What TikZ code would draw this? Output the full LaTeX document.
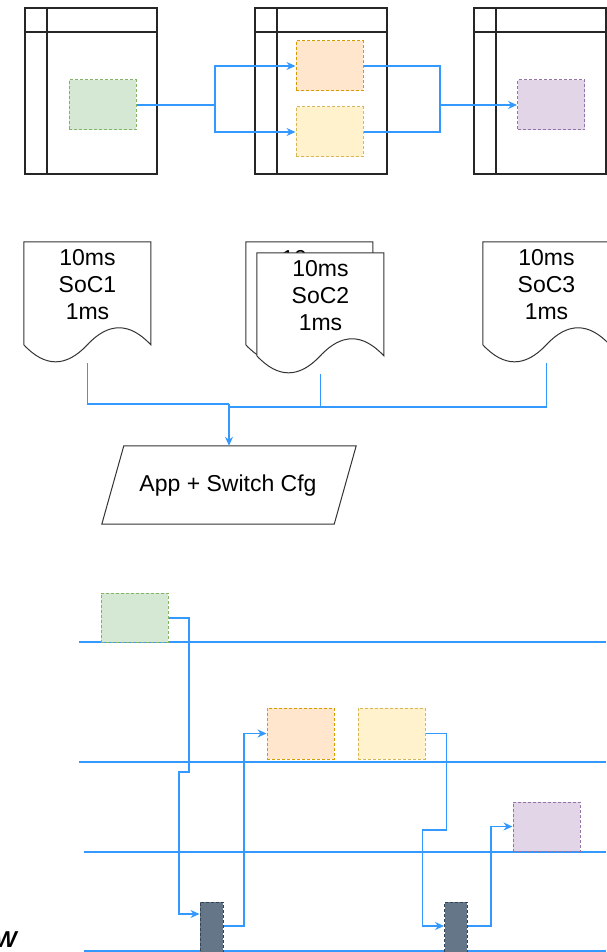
\documentclass[tikz,border=0pt]{standalone}
\usepackage{fontspec}
\setmainfont{Liberation Sans}
\usetikzlibrary{arrows.meta,calc}
\definecolor{flowc}{HTML}{3399FF}
\definecolor{gfill}{HTML}{D5E8D4}\definecolor{gline}{HTML}{82B366}
\definecolor{ofill}{HTML}{FFE6CC}\definecolor{oline}{HTML}{D79B00}
\definecolor{yfill}{HTML}{FFF2CC}\definecolor{yline}{HTML}{D6B656}
\definecolor{pfill}{HTML}{E1D5E7}\definecolor{pline}{HTML}{9673A6}
\definecolor{kfill}{HTML}{647687}\definecolor{kline}{HTML}{314354}
\tikzset{
  flow/.style={draw=flowc, line width=1.2pt},
  flowa/.style={flow, -{Stealth[length=9pt,width=8pt]}},
  cbox/.style={rectangle, dashed, dash pattern=on 3pt off 2pt, line width=1pt, minimum width=67pt, minimum height=50pt, inner sep=0pt},
  gbox/.style={cbox, fill=gfill, draw=gline},
  obox/.style={cbox, fill=ofill, draw=oline},
  ybox/.style={cbox, fill=yfill, draw=yline},
  pbox/.style={cbox, fill=pfill, draw=pline},
  kbox/.style={cbox, fill=kfill, draw=kline, minimum width=23pt, minimum height=73pt},
  winline/.style={draw=black!85, line width=1.3pt},
  docline/.style={draw=black!80, line width=1pt},
  docbb/.style={rectangle, minimum width=127pt, minimum height=121pt, inner sep=0pt},
  doctext/.style={align=center, font=\fontsize{23}{27}\selectfont, inner sep=0pt},
  winpic/.pic={
    \draw[winline] (0,0) rectangle (132,166);
    \draw[winline] (22,0) -- (22,166);
    \draw[winline] (0,24) -- (132,24);
  },
  docpic/.pic={
    \draw[docline, fill=white] (0,0) -- (127,0) -- (127,103)
      .. controls (105.8,80.3) and (84.7,80.3) .. (63.5,103)
      .. controls (42.3,125.7) and (21.2,125.7) .. (0,103) -- cycle;
  },
}
\begin{document}
\begin{tikzpicture}[x=1pt,y=-1pt]
\useasboundingbox (0,0) rectangle (606,952);
\fill[white] (0,0) rectangle (606,952);

% ---------- top: windows ----------
\pic at (25,8) {winpic};
\pic at (255,8) {winpic};
\pic at (474,8) {winpic};

\node[gbox] (g1) at (102.5,105) {};
\node[obox] (o1) at (329.5,66) {};
\node[ybox] (y1) at (329.5,132) {};
\node[pbox] (p1) at (551,105) {};

\coordinate (s1) at (215,105);
\coordinate (m1) at (440,105);
\draw[flow] (g1.east) -- (s1);
\draw[flowa] (s1) |- (o1.west);
\draw[flowa] (s1) |- (y1.west);
\draw[flow] (o1.east) -| (m1);
\draw[flow] (y1.east) -| (m1);
\draw[flowa] (m1) -- (p1.west);

% ---------- documents ----------
\node[docbb] (d1) at (87.5,302.5) {};
\pic at (d1.north west) {docpic};
\node[doctext] (t1) at (87.5,285) {10ms\\SoC1\\1ms};

\node[docbb] (d2b) at (309.5,302.5) {};
\pic at (d2b.north west) {docpic};
\node[doctext, anchor=base] (t2b) at (309.5,266) {10ms};
\node[docbb] (d2) at (320.5,313.5) {};
\pic at (d2.north west) {docpic};
\node[doctext] (t2) at (320.5,296) {10ms\\SoC2\\1ms};

\node[docbb] (d3) at (546.5,302.5) {};
\pic at (d3.north west) {docpic};
\node[doctext] (t3) at (546.5,285) {10ms\\SoC3\\1ms};

% ---------- app parallelogram ----------
\node[rectangle, minimum width=254pt, minimum height=78pt, inner sep=0pt] (app) at (229,485) {};
\draw[docline] ($(app.north west)+(22,0)$) -- (app.north east) -- ($(app.south east)-(22,0)$) -- (app.south west) -- cycle;
\node[doctext] (appt) at (228,486) {App + Switch Cfg};

\coordinate (j1) at (229,404);
\coordinate (j2) at (229,407);
\draw[flow] (d1.south) |- (j1);
\draw[flow] (d2.south) |- (j2);
\draw[flow] (d3.south) |- (j2);
\draw[flowa] (j1) -- (app.north);

% ---------- bottom: timelines ----------
\draw[flow] (79,642) -- (606,642);
\draw[flow] (79,762) -- (606,762);
\draw[flow] (84,852) -- (606,852);
\draw[flow] (84,951) -- (606,951);

\node[gbox, minimum height=49pt] (g2) at (134.5,617.5) {};
\node[obox, minimum height=51pt] (o2) at (300.5,733.5) {};
\node[ybox, minimum height=51pt] (y2) at (391.5,733.5) {};
\node[pbox, minimum height=49pt] (p2) at (546.5,826.5) {};
\node[kbox] (k1) at (211.5,938.5) {};
\node[kbox, minimum width=22.5pt] (k2) at (455.75,938.5) {};

\draw[flowa] (g2.east |- 0,618) -- (189,618) -- (189,772) -- (179,772) -- (179,914) -- (k1.west |- 0,914);
\draw[flowa] (k1.east |- 0,926) -- (244,926) -- (244,733.5) -- (o2.west);
\draw[flowa] (y2.east) -- (446.5,733.5) -- (446.5,830) -- (422.5,830) -- (422.5,926) -- (k2.west |- 0,926);
\draw[flowa] (k2.east |- 0,926) -- (491,926) -- (491,826.5) -- (p2.west);

\node[anchor=base east, inner sep=0pt, font=\fontsize{23}{27}\selectfont\bfseries\itshape] (wlab) at (17,947) {W};
\end{tikzpicture}
\end{document}
